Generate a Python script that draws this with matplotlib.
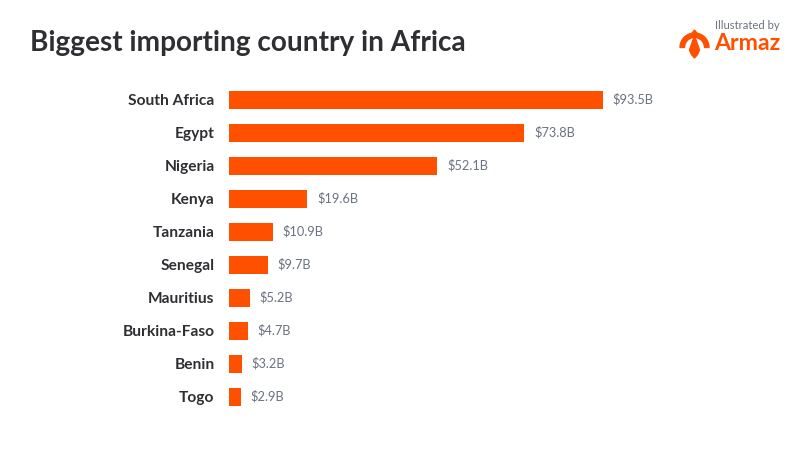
import matplotlib
matplotlib.use("Agg")
import matplotlib.pyplot as plt
from matplotlib.patches import Wedge, Polygon
from matplotlib.transforms import ScaledTranslation

countries = ["South Africa", "Egypt", "Nigeria", "Kenya", "Tanzania", "Senegal",
             "Mauritius", "Burkina-Faso", "Benin", "Togo"]
imports_bn = [93.5, 73.8, 52.1, 19.6, 10.9, 9.7, 5.2, 4.7, 3.2, 2.9]
title = "Biggest importing country in Africa"

ORANGE = "#FF5000"
DARK = "#2F2F33"
GREY = "#6B7280"
FONT = ["Lato", "DejaVu Sans"]

W, H = 800, 450
fig = plt.figure(figsize=(8, 4.5), dpi=100, facecolor="white")
ax = fig.add_axes([229 / W, 1 - 413.2 / H, 400 / W, 330 / H])
ypos = list(range(len(countries)))
ax.barh(ypos, imports_bn, height=0.545, color=ORANGE)
ax.set_xlim(0, 100)
ax.set_ylim(len(countries) - 0.5, -0.5)
ax.set_yticks(ypos)
ax.set_yticklabels(countries, family=FONT, fontsize=11.2, fontweight="bold", color=DARK)
ax.tick_params(axis="y", length=0, pad=10.4)
shift = ScaledTranslation(0, 0.3 / 72, fig.dpi_scale_trans)
for lab in ax.get_yticklabels():
    lab.set_transform(lab.get_transform() + shift)
ax.set_xticks([])
for s in ax.spines.values():
    s.set_visible(False)
for y, v in zip(ypos, imports_bn):
    ax.annotate(f"${v}B", (v, y), xytext=(7, 0.3), textcoords="offset points",
                va="center", ha="left", family=FONT, fontsize=9.2, color=GREY)

fig.text(30 / W, 1 - 43 / H, title, family=FONT, fontsize=20.2, fontweight="bold",
         color=DARK, va="center", ha="left")
fig.text(780 / W, 1 - 25.5 / H, "Illustrated by", family=FONT, fontsize=8.1,
         color=GREY, va="center", ha="right")
fig.text(781 / W, 1 - 43 / H, "Armaz", family=FONT, fontsize=16.7, fontweight="bold",
         color=ORANGE, va="center", ha="right")

# logo mark
logo = fig.add_axes([678 / W, 1 - 60 / H, 32 / W, 32 / H])
logo.set_xlim(678, 710)
logo.set_ylim(60, 28)
logo.axis("off")
logo.add_patch(Wedge((694.5, 47.5), 14.5, 180, 360, width=4.5, color=ORANGE))
logo.add_patch(Polygon([[694.5, 30], [691.5, 34], [697.5, 34]], color=ORANGE))
logo.add_patch(Polygon([[694.5, 37], [696, 40], [699.5, 50], [697.5, 54.5], [694.5, 58],
                        [691.5, 54.5], [689.5, 50], [693, 40]], color=ORANGE))

fig.savefig("out.png", dpi=100, facecolor="white")
